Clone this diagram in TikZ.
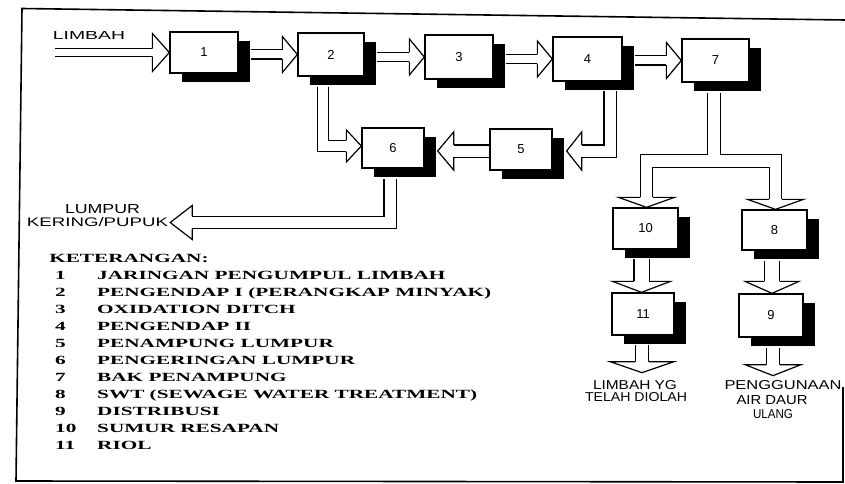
\documentclass[tikz,border=0pt]{standalone}
\usepackage{fontspec}
\setmainfont{Liberation Serif}
\setsansfont{Liberation Sans}
\usepackage{graphicx}
\usetikzlibrary{calc,shadows}

% arrow head: #1 tip, #2 rotation, #3 length, #4 half height, #5 inner shaft width
\newcommand{\ahead}[5]{%
  \begin{scope}[shift={#1},rotate=#2]
    \filldraw[fill=white,draw=black,line width=1.2pt,line join=miter]
      (-#3,{#5/2+0.6}) -- (-#3,#4) -- (0,0) -- (-#3,-#4) -- (-#3,{-(#5/2+0.6)});
  \end{scope}}

\newcommand{\shaftlist}{%
  \sh{6.5}{(55,52.5) -- ($(b1.west)+(-17,0)$)}
  \sh{8}{($(b1.east)+(12,2)$) -- ($(b2.west)+(-15,0)$)}
  \sh{8}{($(b2.east)+(12,2.5)$) -- ($(b3.west)+(-15,0)$)}
  \sh{8}{($(b3.east)+(12,2)$) -- ($(b4.west)+(-15,0)$)}
  \sh{8}{($(b4.east)+(12,1.5)$) -- ($(b7.west)+(-15,0)$)}
  \sh{11}{($(b4.south)+(22.5,9)$) |- ($(b5.east)+(29,1.5)$)}
  \sh{11}{($(b5.west)+(0,1.5)$) -- ($(b6.east)+(29,3)$)}
  \sh{10}{($(b2.south)+(-8,10)$) |- ($(b6.west)+(-15,-2)$)}
  \sh{11}{($(b6.south)+(-3,10)$) |- ($(lump)+(22,0)$)}
  \sh{11.5}{($(b7.south)+(-1.5,10)$) -- (jn)}
  \sh{11.5}{($(b10.north)+(1,-10)$) |- (jn) -| ($(b8.north)+(1,-10)$)}
  \sh{14}{($(b10.south)+(-4,9)$) -- ($(b11.north)+(-1.5,-11)$)}
  \sh{14}{($(b8.south)+(-2.5,10)$) -- ($(b9.north)+(1,-12)$)}
  \sh{12}{($(b11.south)+(-1,9)$) -- ($(t11)+(0,-11)$)}
  \sh{12}{($(b9.south)+(2,10)$) -- ($(t9)+(0,-11)$)}
}

\begin{document}
\begin{tikzpicture}[x=1pt,y=-1pt,
  box/.style={draw, fill=white, line width=1.3pt, inner sep=0pt,
    font=\sffamily\fontsize{13}{13}\selectfont,
    drop shadow={shadow xshift=12pt, shadow yshift=-9pt, opacity=1, fill=black}},
  hw/.style={inner sep=0pt, font=\sffamily}]
\useasboundingbox (0,0) rectangle (845,484);
\fill[white] (0,0) rectangle (845,484);

% frame
\draw[line width=1.6pt, line join=miter] (843,387) -- (843,482) -- (16,481) -- (22,8.5) -- (845,20);

% boxes
\node[box, minimum width=68pt, minimum height=41pt] (b1) at (204,52.5) {1};
\node[box, minimum width=66pt, minimum height=43pt] (b2) at (331,54.5) {2};
\node[box, minimum width=68pt, minimum height=44pt] (b3) at (459,57) {3};
\node[box, minimum width=69pt, minimum height=44pt] (b4) at (587.5,59) {4};
\node[box, minimum width=67pt, minimum height=43pt] (b7) at (715.5,60.5) {7};
\node[box, minimum width=62pt, minimum height=40pt] (b6) at (393,148) {6};
\node[box, minimum width=62pt, minimum height=41pt] (b5) at (521,149.5) {5};
\node[box, minimum width=65pt, minimum height=41pt] (b10) at (645.5,228.5) {10};
\node[box, minimum width=65pt, minimum height=40pt] (b8) at (774.5,230) {8};
\node[box, minimum width=62pt, minimum height=42pt] (b11) at (643,314) {11};
\node[box, minimum width=64pt, minimum height=43pt] (b9) at (771,315.5) {9};

% handwritten labels
\node[hw] (limbah) at (89,36) {\resizebox{72pt}{8pt}{LIMBAH}};
\node[hw] (lum1) at (102.5,209.5) {\resizebox{75pt}{9pt}{LUMPUR}};
\node[hw] (lum2) at (97.5,222.5) {\resizebox{141pt}{9pt}{KERING/PUPUK}};
\node[hw] (o1a) at (635,385) {\resizebox{84pt}{9pt}{LIMBAH YG}};
\node[hw] (o1b) at (636,397) {\resizebox{102pt}{9pt}{TELAH DIOLAH}};
\node[hw] (o2a) at (783,385) {\resizebox{117pt}{9pt}{PENGGUNAAN}};
\node[hw] (o2b) at (772,400) {\resizebox{71pt}{9pt}{AIR DAUR}};
\node[hw] (o2c) at (773,414) {\resizebox{40pt}{9pt}{ULANG}};

\coordinate (lump) at ($(lum2.east)+(2,0)$);
\coordinate (jn) at ($(b7.south)+(-1.5,78.5)$);
\coordinate (t11) at ($(b11.south)+(-1,37)$);
\coordinate (t9) at ($(b9.south)+(2,38)$);

% shafts: outline pass then inner pass
\def\sh#1#2{\pgfmathsetmacro\ow{#1+2.4}\draw[line width=\ow pt, line join=miter] #2;}
\shaftlist
\def\sh#1#2{\draw[white, line width=#1pt, line join=miter] #2;}
\shaftlist

% heads
\ahead{(b1.west)}{0}{17}{19}{6.5}
\ahead{(b2.west)}{0}{15}{18}{8}
\ahead{(b3.west)}{0}{15}{18}{8}
\ahead{(b4.west)}{0}{15}{18}{8}
\ahead{(b7.west)}{0}{15}{18}{8}
\ahead{($(b5.east)+(14,1.5)$)}{180}{15}{19}{11}
\ahead{($(b6.east)+(13,3)$)}{180}{16}{19}{11}
\ahead{($(b6.west)+(0,-2)$)}{0}{15}{16}{10}
\ahead{(lump)}{180}{22}{17}{11}
\ahead{($(b10.north)+(1,0)$)}{-90}{10}{28}{11.5}
\ahead{($(b8.north)+(1,0)$)}{-90}{10}{28}{11.5}
\ahead{($(b11.north)+(-1.5,0)$)}{-90}{11}{29}{14}
\ahead{($(b9.north)+(1,0)$)}{-90}{12}{27}{14}
\ahead{(t11)}{-90}{11}{32}{12}
\ahead{(t9)}{-90}{11}{28}{12}

% legend
\node[anchor=base west, inner sep=0pt, font=\fontsize{12.5}{17}\selectfont\bfseries] (legend) at (55,262)
 {\scalebox{1.7}[1]{\begin{tabular}[t]{@{}p{24.7pt}@{}l@{}}
  \multicolumn{2}{@{\hspace{-3.5pt}}l@{}}{KETERANGAN:}\\
  1 & JARINGAN PENGUMPUL LIMBAH\\
  2 & PENGENDAP I (PERANGKAP MINYAK)\\
  3 & OXIDATION DITCH\\
  4 & PENGENDAP II\\
  5 & PENAMPUNG LUMPUR\\
  6 & PENGERINGAN LUMPUR\\
  7 & BAK PENAMPUNG\\
  8 & SWT (SEWAGE WATER TREATMENT)\\
  9 & DISTRIBUSI\\
  10 & SUMUR RESAPAN\\
  11 & RIOL
 \end{tabular}}};
\end{tikzpicture}
\end{document}
